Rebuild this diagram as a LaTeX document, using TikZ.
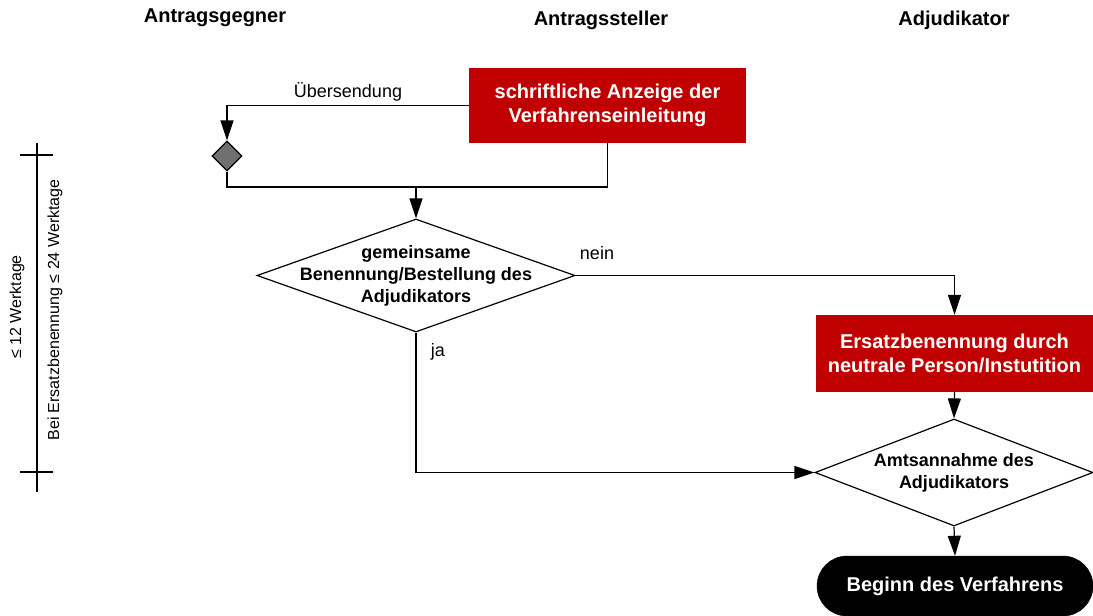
\documentclass[tikz,border=0pt]{standalone}
\usepackage{fontspec}
\setmainfont{Liberation Sans}
\usetikzlibrary{shapes.geometric,arrows.meta}
\definecolor{boxred}{HTML}{C00000}
\definecolor{dgray}{HTML}{707070}
\begin{document}
\begin{tikzpicture}[x=1pt,y=-1pt,
  conn/.style={line width=1.2pt},
  arr/.style={conn,-{Triangle[length=20pt,width=13pt]}},
  head/.style={font=\fontsize{20}{24}\selectfont\bfseries},
  redbox/.style={fill=boxred,draw=none,minimum width=277pt,inner sep=0pt,text=white,align=center,font=\fontsize{20}{24}\selectfont\bfseries},
  dia/.style={diamond,draw,line width=1.2pt,fill=white,inner sep=0pt},
  diatext/.style={align=center,font=\fontsize{18}{22}\selectfont\bfseries,inner sep=0pt},
  lbl/.style={font=\fontsize{18}{22}\selectfont,inner sep=0pt},
  rlbl/.style={font=\fontsize{16}{19}\selectfont,inner sep=0pt,rotate=90},
  term/.style={fill=black,draw=black,rounded corners=30pt,minimum width=276pt,minimum height=60pt,inner sep=0pt,text=white,font=\fontsize{20}{24}\selectfont\bfseries}]
\useasboundingbox (0,0) rectangle (1093,616);

% headings
\node[head] (h1) at (215,18) {Antragsgegner};
\node[head] (h2) at (601,20) {Antragssteller};
\node[head] (h3) at (954,20) {Adjudikator};

% nodes
\node[redbox,minimum height=75pt] (b1) at (607.5,105.5) {schriftliche Anzeige der\\Verfahrenseinleitung};
\node[dia,fill=dgray,minimum width=30pt,minimum height=30pt] (sd) at (227,156) {};
\coordinate (j) at (416,187);
\node[dia,minimum width=318pt,minimum height=113pt] (d1) at (416,275.5) {};
\node[diatext] (d1t) at (d1) {gemeinsame\\Benennung/Bestellung des\\Adjudikators};
\node[redbox,minimum height=77pt] (b2) at (954.5,353.5) {Ersatzbenennung durch\\neutrale Person/Instutition};
\node[dia,minimum width=278pt,minimum height=107pt] (d2) at (954,472.5) {};
\node[diatext] (d2t) at (d2) {Amtsannahme des\\Adjudikators};
\node[term] (t) at (955,586) {Beginn des Verfahrens};

% connectors
\draw[arr] (b1.west) -| (sd.north);
\node[lbl] (l1) at (348,92) {Übersendung};
\draw[conn] (sd.south) -- (sd.south |- j) -- (b1.south |- j) -- (b1.south);
\draw[arr] (j) -- (d1.north);
\draw[arr] (d1.east) -| (b2.north);
\node[lbl] (l2) at (597,253) {nein};
\draw[arr] (d1.south) |- (d2.west);
\node[lbl] (l3) at (438,352) {ja};
\draw[arr] (b2.south) -- (d2.north);
\draw[arr] (d2.south) -- (t.north);

% time scale
\coordinate (s1) at (37,143);
\coordinate (s2) at (37,492);
\coordinate (ta1) at (20,155);
\coordinate (ta2) at (53,155);
\coordinate (tb1) at (20,472);
\coordinate (tb2) at (53,472);
\draw[conn] (s1) -- (s2);
\draw[conn] (ta1) -- (ta2);
\draw[conn] (tb1) -- (tb2);
\node[rlbl] (r1) at (17,307) {≤ 12 Werktage};
\node[rlbl] (r2) at (55,310) {Bei Ersatzbenennung ≤ 24 Werktage};
\end{tikzpicture}
\end{document}
